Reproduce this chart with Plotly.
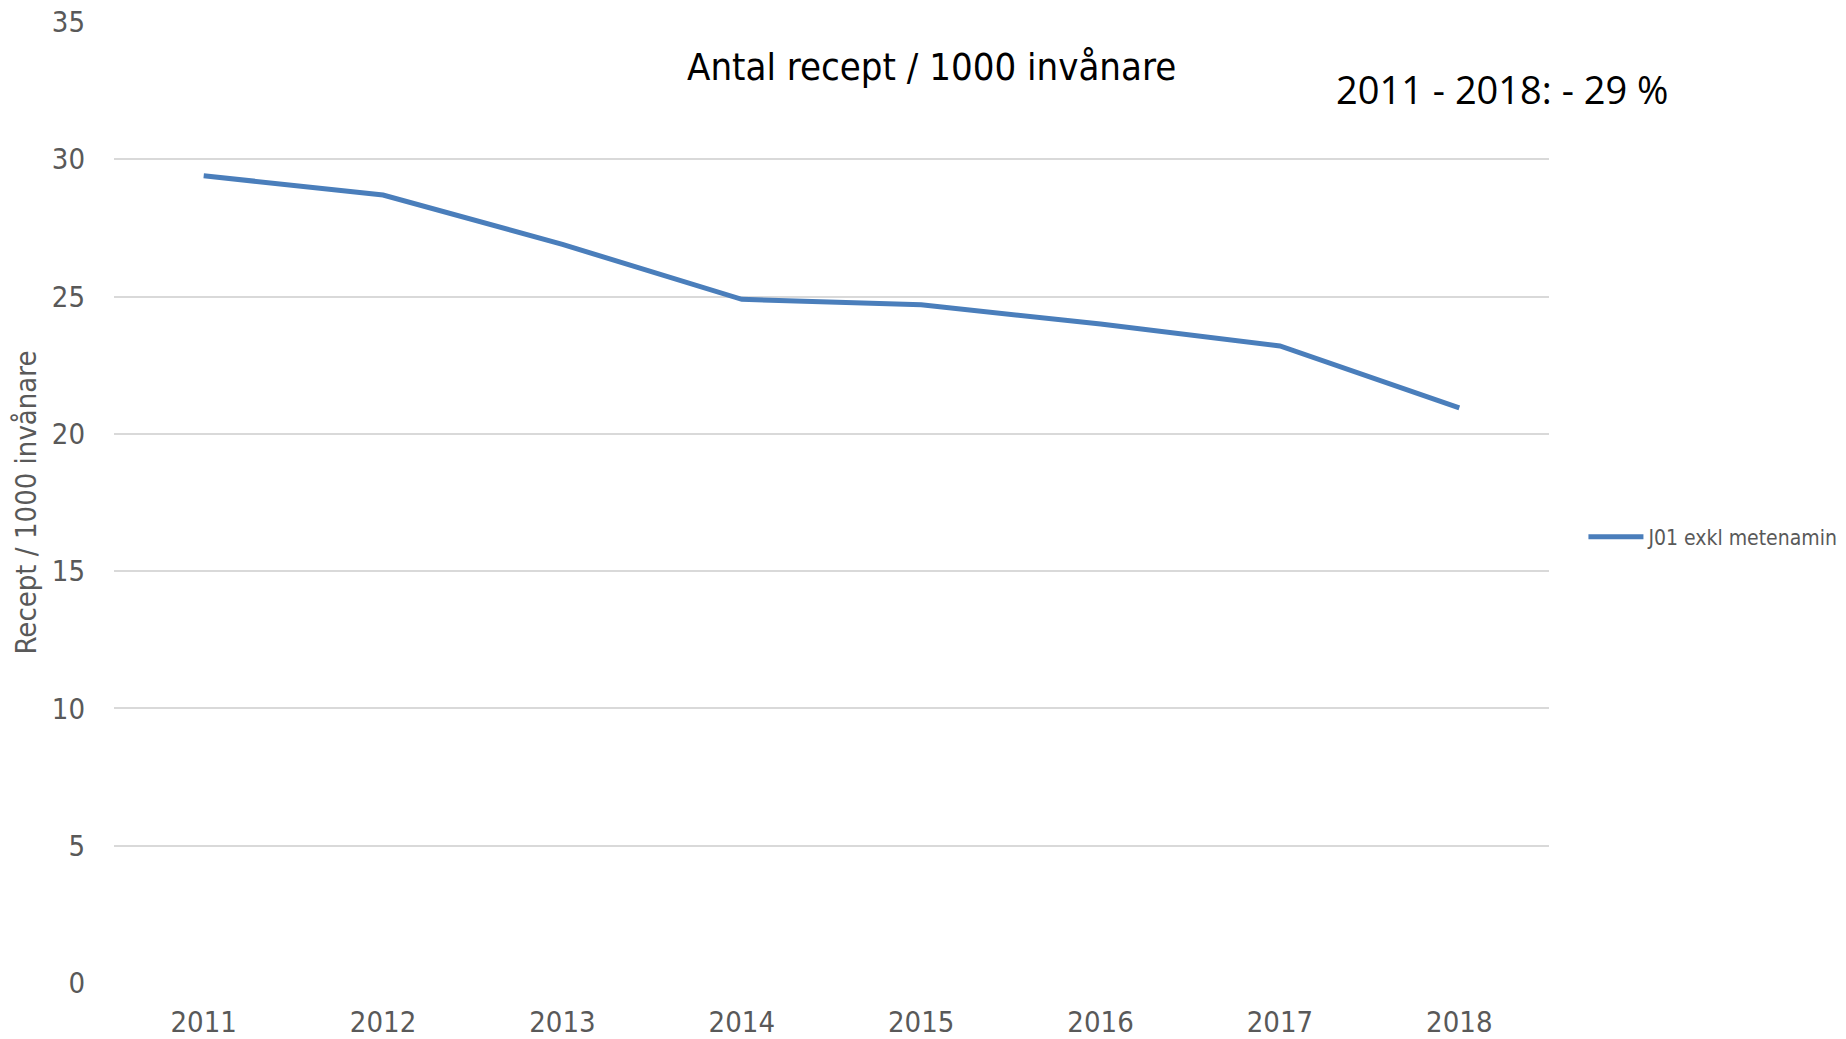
import plotly.graph_objects as go

years = ["2011", "2012", "2013", "2014", "2015", "2016", "2017", "2018"]
values = [29.4, 28.7, 26.9, 24.9, 24.7, 24.0, 23.2, 20.95]
series_name = "J01 exkl metenamin"
y_ticks = [0, 5, 10, 15, 20, 25, 30, 35]
title_text = "Antal recept / 1000 invånare"
change_text = "2011 - 2018: - 29 %"
y_title = "Recept / 1000 invånare"

NARROW = "Liberation Sans Narrow, DejaVu Sans Condensed, Arial Narrow, sans-serif"
GRAY = "#595959"

fig = go.Figure()
fig.add_trace(go.Scatter(
    x=years, y=values, mode="lines", name=series_name,
    line=dict(color="#4a7ebb", width=5),
))

fig.update_layout(
    width=1846, height=1039,
    margin=dict(l=114, r=297, t=22, b=56, autoexpand=False),
    paper_bgcolor="white", plot_bgcolor="white",
    showlegend=True,
    legend=dict(x=1.024, y=0.464, xanchor="left", yanchor="middle",
                font=dict(family=NARROW, size=21, color=GRAY),
                itemwidth=55, bgcolor="rgba(0,0,0,0)"),
    xaxis=dict(type="category", range=[-0.5, 7.5], showgrid=False,
               showline=False, zeroline=False, ticks="",
               tickfont=dict(family=NARROW, size=29, color=GRAY),
               ticklabelstandoff=19, automargin=False),
    yaxis=dict(range=[0, 35], tickvals=y_ticks, showgrid=True,
               gridcolor="#d9d9d9", gridwidth=2, zeroline=False,
               showline=False, ticks="", automargin=False,
               tickfont=dict(family=NARROW, size=29, color=GRAY),
               ticklabelstandoff=28,
               title=dict(text=y_title, standoff=6,
                          font=dict(family=NARROW, size=29, color=GRAY))),
    annotations=[
        dict(text=title_text, xref="paper", yref="paper", x=0.57, y=0.953,
             xanchor="center", yanchor="middle", showarrow=False,
             font=dict(family=NARROW, size=38, color="black")),
        dict(text=change_text, xref="paper", yref="paper", x=0.967, y=0.93,
             xanchor="center", yanchor="middle", showarrow=False,
             font=dict(family="Open Sans, Noto Sans, sans-serif", size=38, color="black")),
    ],
)

fig.write_html(
    "out.html",
    config={"displayModeBar": False},
    post_script="document.body.style.margin='0';document.body.style.overflow='hidden';",
)
